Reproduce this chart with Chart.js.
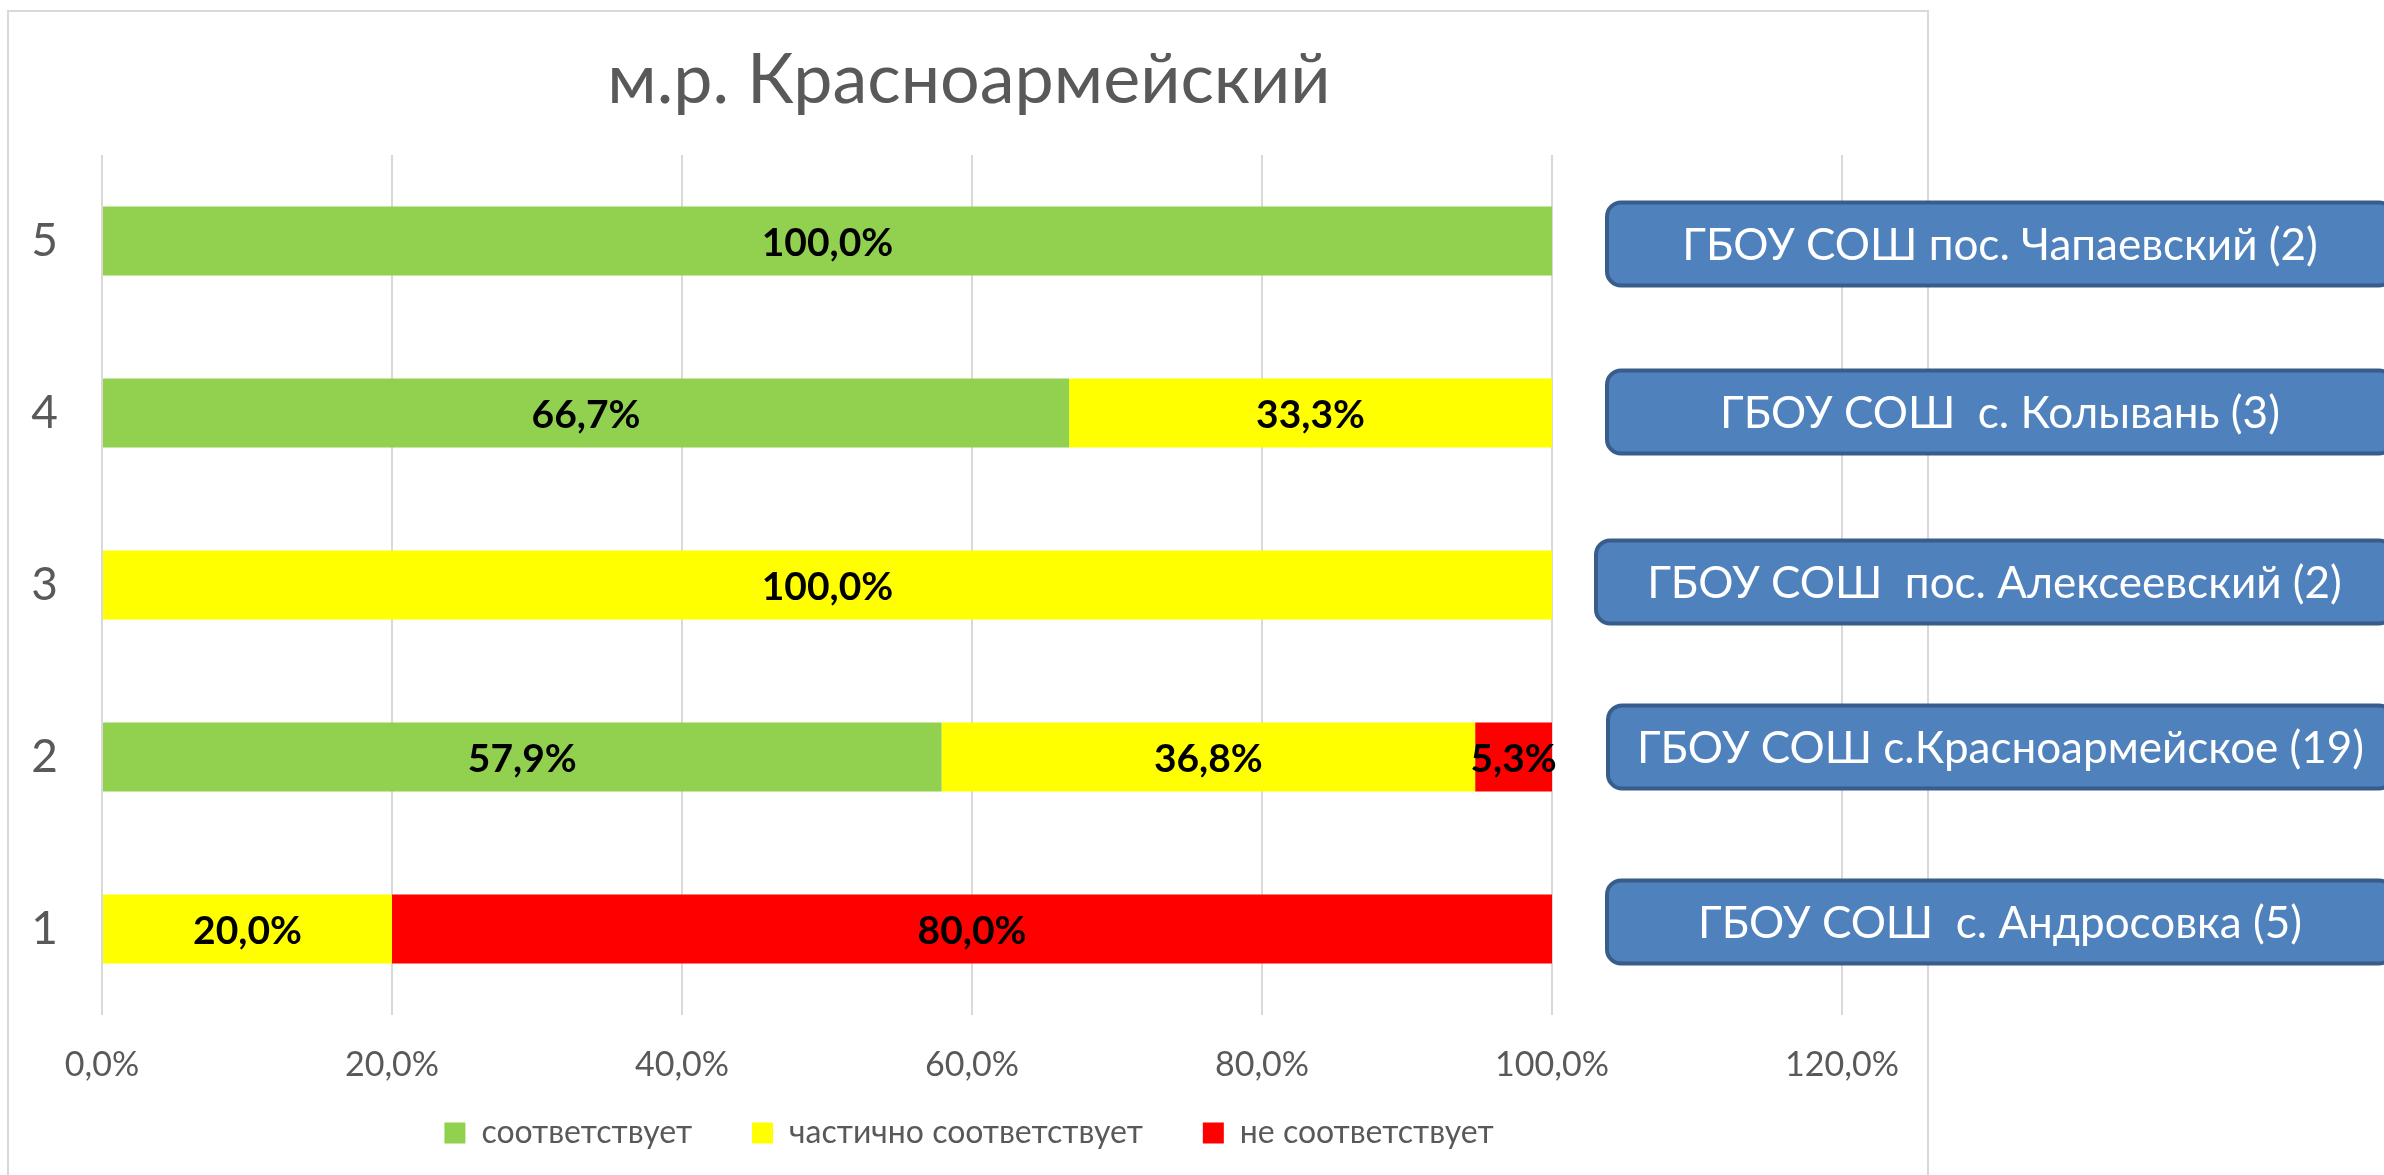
<!DOCTYPE html>
<html>
<head>
<meta charset="utf-8">
<script src="https://cdn.jsdelivr.net/npm/chart.js@4/dist/chart.umd.min.js"></script>
<style>
  body { margin: 0; background: #fff; }
  canvas { display: block; }
</style>
</head>
<body>
<canvas id="chart" width="2384" height="1175"></canvas>
<script>
// categories go bottom to top: 1..5
const categories = ['1', '2', '3', '4', '5'];
const seriesNames = ['соответствует', 'частично соответствует', 'не соответствует'];
const matches = [0, 57.9, 0, 66.7, 100];
const partial = [20, 36.8, 100, 33.3, 0];
const notMatch = [80, 5.3, 0, 0, 0];
const schools = [
    'ГБОУ СОШ  с. Андросовка (5)',
    'ГБОУ СОШ с.Красноармейское (19)',
    'ГБОУ СОШ  пос. Алексеевский (2)',
    'ГБОУ СОШ  с. Колывань (3)',
    'ГБОУ СОШ пос. Чапаевский (2)'
];
const xTicks = [0, 20, 40, 60, 80, 100, 120];

const FONT = 'Lato';
const pct = v => v.toFixed(1).replace('.', ',') + '%';

// layout of the school text boxes (left edge, vertical shift from bar centre)
const boxLeft = [1607, 1608, 1596, 1607, 1607];
const boxShift = [-7, -10, -3, -1, 3];

const frame = {
    id: 'frame',
    afterLayout(chart) {
        // let the x tick labels hang below the squeezed axis box
        chart.scales.x.bottom = chart.height;
    },
    beforeDraw(chart) {
        const ctx = chart.ctx;
        ctx.save();
        ctx.fillStyle = '#fff';
        ctx.fillRect(0, 0, chart.width, chart.height);
        ctx.strokeStyle = '#d9d9d9';
        ctx.lineWidth = 2;
        ctx.strokeRect(8, 11, 1920, 1200);
        ctx.restore();
    }
};

const barLabels = {
    id: 'barLabels',
    afterDatasetsDraw(chart) {
        const ctx = chart.ctx;
        ctx.save();
        ctx.font = `bold 39px ${FONT}`;
        ctx.fillStyle = '#000';
        ctx.textAlign = 'center';
        ctx.textBaseline = 'middle';
        chart.data.datasets.forEach((ds, i) => {
            chart.getDatasetMeta(i).data.forEach((bar, j) => {
                const v = ds.data[j];
                if (!v) return;
                const p = bar.getProps(['x', 'y', 'base'], true);
                ctx.fillText(pct(v), (p.x + p.base) / 2, p.y + 2);
            });
        });
        ctx.restore();
    }
};

const schoolBoxes = {
    id: 'schoolBoxes',
    afterDraw(chart) {
        const ctx = chart.ctx;
        const y = chart.scales.y;
        const right = 2393, h = 83;
        ctx.save();
        schools.forEach((name, i) => {
            const cy = y.getPixelForValue(i) + boxShift[i];
            const left = boxLeft[i];
            ctx.beginPath();
            ctx.roundRect(left, cy - h / 2, right - left, h, 14);
            ctx.fillStyle = '#4f81bd';
            ctx.fill();
            ctx.lineWidth = 4;
            ctx.strokeStyle = '#385d8a';
            ctx.stroke();
            ctx.fillStyle = '#fff';
            ctx.font = `44px ${FONT}`;
            ctx.textAlign = 'center';
            ctx.textBaseline = 'middle';
            ctx.fillText(name, (left + right) / 2, cy + 2);
        });
        ctx.restore();
    }
};

new Chart(document.getElementById('chart'), {
    type: 'bar',
    data: {
        labels: categories,
        datasets: [
            { label: seriesNames[0], data: matches, backgroundColor: '#92d050' },
            { label: seriesNames[1], data: partial, backgroundColor: '#ffff00' },
            { label: seriesNames[2], data: notMatch, backgroundColor: '#ff0000' }
        ]
    },
    options: {
        indexAxis: 'y',
        responsive: false,
        animation: false,
        categoryPercentage: 0.8,
        barPercentage: 0.5,
        layout: { padding: { left: 10, right: 456, top: 0, bottom: 16 } },
        scales: {
            x: {
                stacked: true,
                min: 0,
                max: 120,
                afterBuildTicks(s) { s.ticks = xTicks.map(v => ({ value: v })); },
                afterFit(s) { s.height = 42; },
                grid: { color: '#d9d9d9', lineWidth: 2, drawTicks: false },
                border: { display: false },
                ticks: {
                    padding: 30,
                    color: '#595959',
                    font: { family: FONT, size: 34 },
                    callback: v => pct(v)
                }
            },
            y: {
                stacked: true,
                reverse: true,
                afterFit(s) { s.width = 92; },
                grid: { display: false },
                border: { display: false },
                ticks: {
                    padding: 36,
                    color: '#595959',
                    font: { family: FONT, size: 46 }
                }
            },
            yR: {
                type: 'category',
                axis: 'y',
                position: 'right',
                display: true,
                afterFit(s) { s.width = 86; },
                grid: { display: false },
                border: { display: false },
                ticks: { display: false }
            }
        },
        plugins: {
            title: {
                display: true,
                text: 'м.р. Красноармейский',
                color: '#595959',
                font: { family: FONT, size: 70, weight: 'normal', lineHeight: 1.2 },
                padding: { top: 38, bottom: 33 }
            },
            legend: {
                position: 'bottom',
                labels: {
                    color: '#595959',
                    font: { family: FONT, size: 32 },
                    boxWidth: 21,
                    boxHeight: 21,
                    padding: 60
                }
            },
            tooltip: { enabled: false }
        }
    },
    plugins: [frame, barLabels, schoolBoxes]
});
</script>
</body>
</html>
